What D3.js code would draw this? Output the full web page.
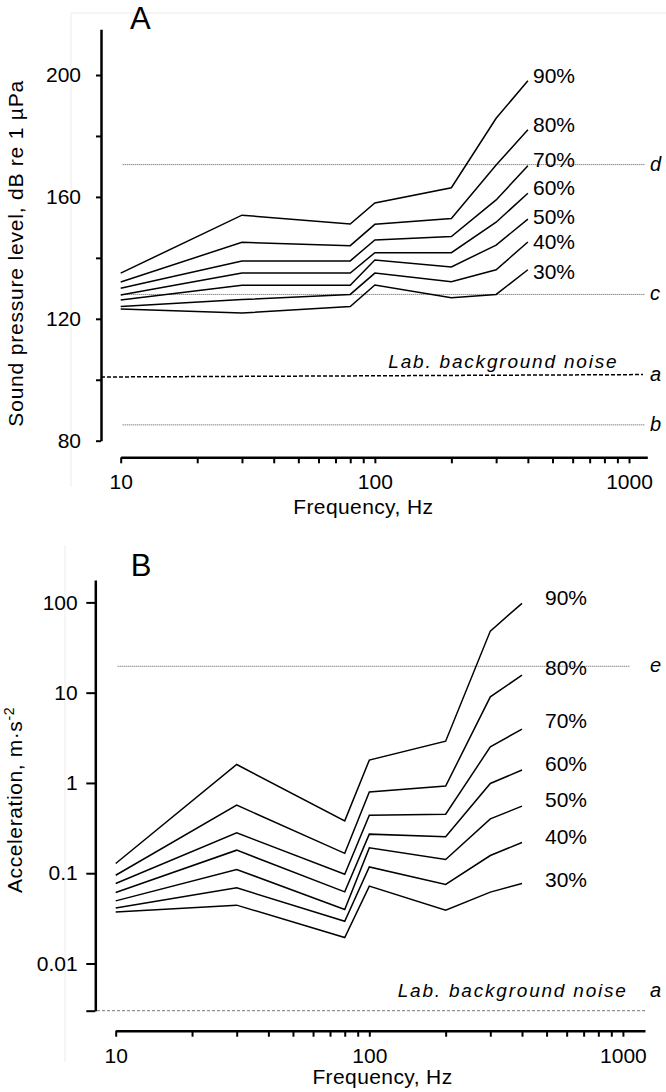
<!DOCTYPE html>
<html>
<head>
<meta charset="utf-8">
<script src="https://cdn.jsdelivr.net/npm/d3@7"></script>
<style>
  html, body { margin: 0; padding: 0; background: #fff; }
  svg { display: block; font-family: "Liberation Sans", Arial, sans-serif; }
</style>
</head>
<body>
<svg id="chart" width="666" height="1092"></svg>
<script>
// ---------------- DATA ----------------
const frequencies = [10, 30, 80, 100, 200, 300, 400];          // Hz
const percentileLabels = ["90%", "80%", "70%", "60%", "50%", "40%", "30%"];

// Panel A: sound pressure level, dB re 1 µPa
const splA90 = [135.0, 154.0, 151.1, 158.0, 163.0, 185.8, 198.1];
const splA80 = [132.1, 145.1, 144.0, 151.0, 152.9, 170.5, 182.0];
const splA70 = [130.0, 139.0, 139.0, 145.9, 147.0, 159.0, 170.2];
const splA60 = [127.8, 135.0, 135.0, 141.7, 141.7, 151.7, 161.2];
const splA50 = [126.2, 131.0, 131.0, 139.3, 137.0, 144.2, 152.7];
const splA40 = [124.0, 126.3, 128.0, 135.0, 132.2, 136.1, 145.2];
const splA30 = [123.2, 121.9, 124.0, 131.1, 126.9, 128.0, 136.1];

// Panel B: acceleration, m·s-2
const accB90 = [0.128, 1.60, 0.380, 1.79, 2.90, 48.1, 97.5];
const accB80 = [0.095, 0.568, 0.166, 0.796, 0.923, 9.0, 15.6];
const accB70 = [0.0769, 0.280, 0.0975, 0.44, 0.451, 2.51, 3.95];
const accB60 = [0.0612, 0.180, 0.0621, 0.271, 0.253, 0.986, 1.39];
const accB50 = [0.0494, 0.110, 0.0396, 0.191, 0.142, 0.40, 0.553];
const accB40 = [0.0413, 0.0689, 0.0294, 0.1175, 0.075, 0.157, 0.219];
const accB30 = [0.0373, 0.0443, 0.0194, 0.072, 0.039, 0.0617, 0.0769];

// Reference levels
const refLinesA = [
  { key: "d", value: 170.6 },
  { key: "c", value: 128.0 },
  { key: "b", value: 85.2 }
];
const noiseA = [100.9, 101.7];   // lab. background noise (start, end), dB
const refLinesB = [ { key: "e", value: 19.6 } ];
const noiseB = 0.003;            // lab. background noise, m·s-2

// Axis ticks
const xTickValues = [10,20,30,40,50,60,70,80,90,100,200,300,400,500,600,700,800,900,1000];
const xTickLabels = [10, 100, 1000];
const yTickValuesA = [80, 100, 120, 140, 160, 180, 200];
const yTickLabelsA = [80, 120, 160, 200];
const yTickValuesB = [0.003, 0.01, 0.1, 1, 10, 100];
const yTickLabelsB = ["0.01", "0.1", "1", "10", "100"];

// ---------------- LAYOUT ----------------
const seriesA = [splA90, splA80, splA70, splA60, splA50, splA40, splA30];
const seriesB = [accB90, accB80, accB70, accB60, accB50, accB40, accB30];
const labelYA = [75, 124, 159.3, 187.7, 216, 241, 271];      // label centres (px)
const labelYB = [597.3, 667.3, 720.7, 763.3, 799.3, 836, 879.3];

const svg = d3.select("#chart");
const FS = 21;

// faint frame remnants
svg.append("path").attr("d", "M71,487V13H666").attr("fill", "none").attr("stroke", "#ececec").attr("stroke-width", 1);
svg.append("path").attr("d", "M65,545V1062").attr("fill", "none").attr("stroke", "#ececec").attr("stroke-width", 1);

function styleAxis(g, domainW, tickW) {
  g.select(".domain").attr("stroke", "#000").attr("stroke-width", domainW);
  g.selectAll(".tick line").attr("stroke", "#000").attr("stroke-width", tickW);
  g.selectAll(".tick text").attr("fill", "#000").attr("font-size", FS)
    .attr("font-family", "Liberation Sans, Arial, sans-serif");
}

function drawPanel(opt) {
  const { x, y, series, labelY, labelX, yAxisX, xAxisY, yTickValues, yTickFmt,
          yTickSize, yTickPad, refs, refEndX, letterX } = opt;
  const g = svg.append("g");

  // y axis
  const ya = g.append("g").attr("transform", `translate(${yAxisX},0)`)
    .call(d3.axisLeft(y).tickValues(yTickValues).tickFormat(yTickFmt)
      .tickSize(yTickSize).tickSizeOuter(0).tickPadding(yTickPad));
  styleAxis(ya, 2.5, 2);

  // x axis
  const xa = g.append("g").attr("transform", `translate(0,${xAxisY})`)
    .call(d3.axisBottom(x).tickValues(xTickValues)
      .tickFormat(d => xTickLabels.includes(d) ? String(d) : "")
      .tickSize(6).tickSizeOuter(0).tickPadding(11));
  styleAxis(xa, 2.5, 2);

  // reference dotted lines
  refs.forEach(r => {
    g.append("line")
      .attr("x1", x(10) + 2).attr("x2", refEndX)
      .attr("y1", y(r.value)).attr("y2", y(r.value))
      .attr("stroke", "#555").attr("stroke-width", 1).attr("stroke-dasharray", "1,1");
    g.append("text").attr("x", letterX).attr("y", y(r.value) + 6)
      .attr("font-size", 20).attr("font-style", "italic").text(r.key);
  });

  // data lines
  const line = d3.line().x((d, i) => x(frequencies[i])).y(d => y(d));
  series.forEach((s, k) => {
    g.append("path").datum(s).attr("d", line)
      .attr("fill", "none").attr("stroke", "#000").attr("stroke-width", 1.5)
      .attr("stroke-linejoin", "miter");
    g.append("text").attr("x", labelX).attr("y", labelY[k] + 7.5)
      .attr("font-size", FS).attr("fill", "#000").text(percentileLabels[k]);
  });
  return g;
}

// ---------------- PANEL A ----------------
const xA = d3.scaleLog().domain([10, 1180]).range([120.7, 647.3]);
const yA = d3.scaleLinear().domain([80, 215]).range([440.7, 29.3]);

const gA = drawPanel({
  x: xA, y: yA, series: seriesA, labelY: labelYA, labelX: 533,
  yAxisX: 101, xAxisY: 457.3, yTickValues: yTickValuesA,
  yTickFmt: d => yTickLabelsA.includes(d) ? String(d) : "",
  yTickSize: 5, yTickPad: 15, refs: refLinesA, refEndX: 645, letterX: 650
});
// lab noise (dashed black)
gA.append("line")
  .attr("x1", 101).attr("x2", 643)
  .attr("y1", yA(noiseA[0])).attr("y2", yA(noiseA[1]))
  .attr("stroke", "#000").attr("stroke-width", 1.5).attr("stroke-dasharray", "4,2");
gA.append("text").attr("x", 388.3).attr("y", 368.3).attr("font-size", 19)
  .attr("font-style", "italic").attr("letter-spacing", 1.8).text("Lab. background noise");
gA.append("text").attr("x", 650).attr("y", yA(noiseA[1]) + 6).attr("font-size", 20)
  .attr("font-style", "italic").text("a");
gA.append("text").attr("x", 130).attr("y", 29.3).attr("font-size", 31).text("A");
gA.append("text").attr("x", 363.3).attr("y", 514.3).attr("font-size", FS)
  .attr("text-anchor", "middle").attr("letter-spacing", 0.4).text("Frequency, Hz");
gA.append("text").attr("transform", "translate(23.3,253.3) rotate(-90)")
  .attr("text-anchor", "middle").attr("font-size", FS).attr("letter-spacing", 0.8)
  .text("Sound pressure level, dB re 1 µPa");

// ---------------- PANEL B ----------------
const xB = d3.scaleLog().domain([10, 1222]).range([115.7, 645]);
const yB = d3.scaleLog().domain([0.003, 177]).range([1010.7, 580]);

const gB = drawPanel({
  x: xB, y: yB, series: seriesB, labelY: labelYB, labelX: 545,
  yAxisX: 95.3, xAxisY: 1030.7, yTickValues: yTickValuesB,
  yTickFmt: d => { const s = String(d); return yTickLabelsB.includes(s) ? s : ""; },
  yTickSize: 9, yTickPad: 8.6, refs: refLinesB, refEndX: 630, letterX: 650
});
gB.append("line")
  .attr("x1", 97).attr("x2", 645)
  .attr("y1", yB(noiseB)).attr("y2", yB(noiseB))
  .attr("stroke", "#777").attr("stroke-width", 1).attr("stroke-dasharray", "3,2");
gB.append("text").attr("x", 397.7).attr("y", 996.7).attr("font-size", 19)
  .attr("font-style", "italic").attr("letter-spacing", 1.8).text("Lab. background noise");
gB.append("text").attr("x", 650).attr("y", 996.7).attr("font-size", 20)
  .attr("font-style", "italic").text("a");
gB.append("text").attr("x", 130.7).attr("y", 576).attr("font-size", 31).text("B");
gB.append("text").attr("x", 382.5).attr("y", 1084).attr("font-size", FS)
  .attr("text-anchor", "middle").attr("letter-spacing", 0.4).text("Frequency, Hz");
const yt = gB.append("text").attr("transform", "translate(21.7,893) rotate(-90)")
  .attr("text-anchor", "start").attr("font-size", FS).attr("letter-spacing", 0.6);
yt.append("tspan").text("Acceleration, m·s");
yt.append("tspan").attr("font-size", 14).attr("dy", -8).text("-2");
</script>
</body>
</html>
